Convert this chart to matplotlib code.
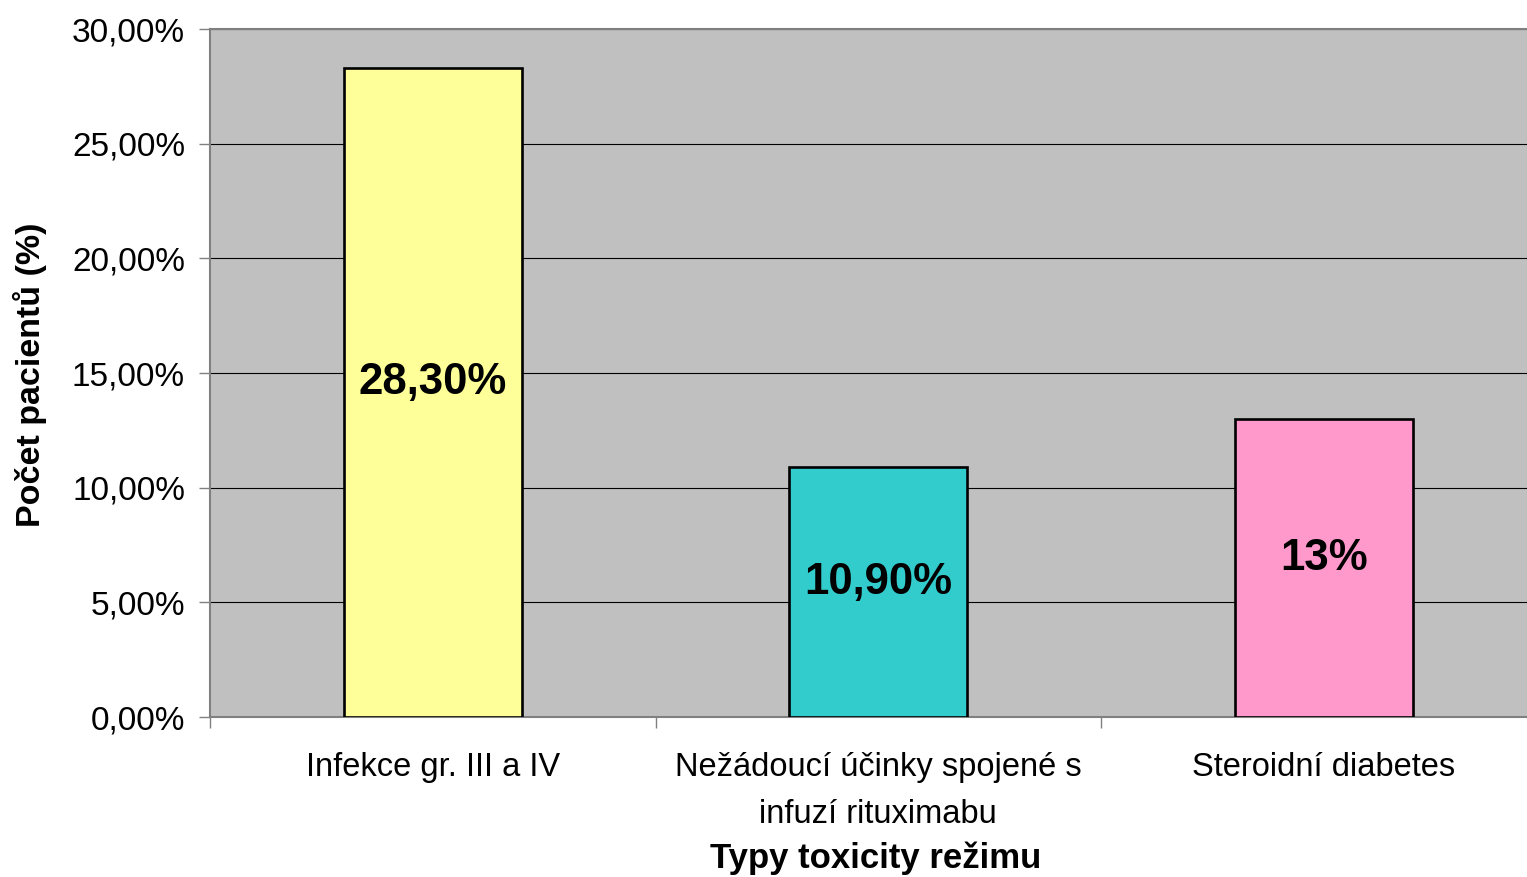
import matplotlib
matplotlib.use("Agg")
import matplotlib.pyplot as plt
from matplotlib.ticker import FuncFormatter

plt.rcParams['font.family'] = ['Liberation Sans', 'DejaVu Sans']

categories = ["Infekce gr. III a IV",
              "Nežádoucí účinky spojené s\ninfuzí rituximabu",
              "Steroidní diabetes"]
values = [28.3, 10.9, 13.0]
value_labels = ["28,30%", "10,90%", "13%"]
colors = ["#FFFF99", "#33CCCC", "#FF99CC"]
y_ticks = [0, 5, 10, 15, 20, 25, 30]

fig = plt.figure(figsize=(15.27, 8.77), dpi=100)
ax = fig.add_axes([210 / 1527, 160 / 877, 1336.5 / 1527, 688 / 877])
ax.set_facecolor("#C0C0C0")

x = list(range(len(categories)))
bars = ax.bar(x, values, width=0.4, color=colors, edgecolor="black",
              linewidth=1.9, zorder=3)

for xi, v, lab in zip(x, values, value_labels):
    ax.annotate(lab, (xi, v / 2), xytext=(0, 7), textcoords="offset points",
                ha="center", va="center", fontsize=31.5, fontweight="bold",
                zorder=4)

ax.set_xlim(-0.5, 2.5)
ax.set_ylim(0, 30)
ax.set_yticks(y_ticks)
ax.yaxis.set_major_formatter(FuncFormatter(lambda v, p: f"{v:.2f}".replace(".", ",") + "%"))
ax.yaxis.grid(True, color="black", linewidth=0.8, zorder=1)
ax.set_axisbelow(True)

ax.set_xticks(x)
ax.set_xticklabels(categories, fontsize=23.5, linespacing=1.68)
ax.set_xticks([-0.5, 0.5, 1.5], minor=True)
ax.tick_params(axis="x", which="major", length=0, pad=25)
ax.tick_params(axis="x", which="minor", length=8, width=1, color="#808080", direction="out")
ax.tick_params(axis="y", length=8, width=1, color="#808080", direction="out",
               labelsize=24, pad=10)

for side in ["left", "bottom", "top"]:
    ax.spines[side].set_color("#808080")
    ax.spines[side].set_linewidth(1.5)
ax.spines["right"].set_visible(False)

fig.text(30 / 1527, 1 - 375 / 877, "Počet pacientů (%)", rotation=90,
         ha="center", va="center", fontsize=24.5, fontweight="bold")
fig.text(876 / 1527, 1 - 858 / 877, "Typy toxicity režimu",
         ha="center", va="center", fontsize=25, fontweight="bold")

fig.savefig("out.png", dpi=100)
